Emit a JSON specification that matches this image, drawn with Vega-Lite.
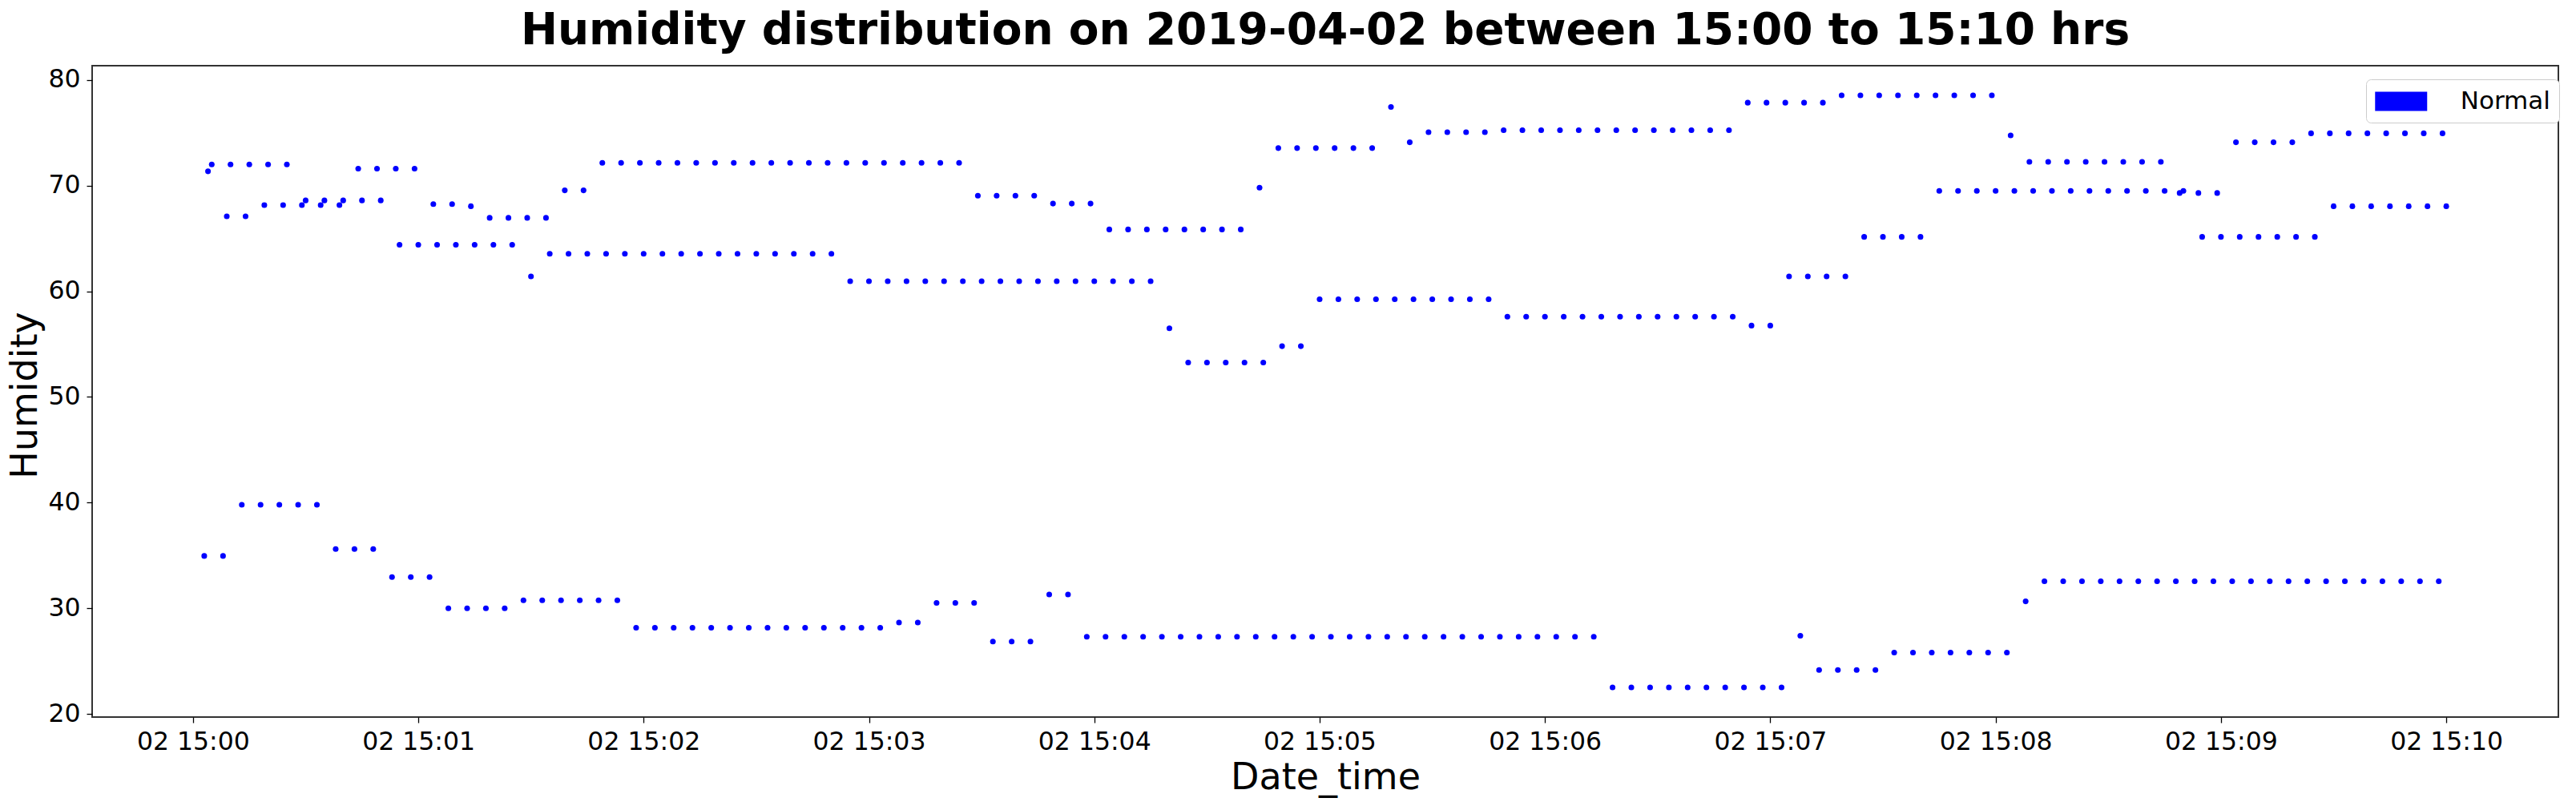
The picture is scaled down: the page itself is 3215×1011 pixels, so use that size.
{
"$schema": "https://vega.github.io/schema/vega-lite/v6.json",
"width": 3078, "height": 813,
"autosize": {"type": "none"},
"padding": {"left": 115, "top": 82, "right": 22, "bottom": 116},
"background": "white",
"config": {"view": {"stroke": "#333333", "strokeWidth": 2}, "font": "DejaVu Sans"},
"title": {"text": "Humidity distribution on 2019-04-02 between 15:00 to 15:10 hrs", "font": "DejaVu Sans", "fontSize": 55, "fontWeight": "bold", "color": "black", "anchor": "middle", "frame": "group", "offset": 15},
"data": {"values": [
{"t":"2019-04-02T15:00:05","h":72.0},{"t":"2019-04-02T15:00:10","h":72.0},{"t":"2019-04-02T15:00:15","h":72.0},{"t":"2019-04-02T15:00:20","h":72.0},{"t":"2019-04-02T15:00:25","h":72.0},
{"t":"2019-04-02T15:00:30","h":68.6},{"t":"2019-04-02T15:00:35","h":68.6},{"t":"2019-04-02T15:00:40","h":68.6},{"t":"2019-04-02T15:00:45","h":68.6},{"t":"2019-04-02T15:00:50","h":68.6},
{"t":"2019-04-02T15:00:55","h":64.4},{"t":"2019-04-02T15:01:00","h":64.4},{"t":"2019-04-02T15:01:05","h":64.4},{"t":"2019-04-02T15:01:10","h":64.4},{"t":"2019-04-02T15:01:15","h":64.4},{"t":"2019-04-02T15:01:20","h":64.4},{"t":"2019-04-02T15:01:25","h":64.4},
{"t":"2019-04-02T15:01:30","h":61.4},
{"t":"2019-04-02T15:01:35","h":63.55},{"t":"2019-04-02T15:01:40","h":63.55},{"t":"2019-04-02T15:01:45","h":63.55},{"t":"2019-04-02T15:01:50","h":63.55},{"t":"2019-04-02T15:01:55","h":63.55},{"t":"2019-04-02T15:02:00","h":63.55},{"t":"2019-04-02T15:02:05","h":63.55},{"t":"2019-04-02T15:02:10","h":63.55},{"t":"2019-04-02T15:02:15","h":63.55},{"t":"2019-04-02T15:02:20","h":63.55},{"t":"2019-04-02T15:02:25","h":63.55},{"t":"2019-04-02T15:02:30","h":63.55},{"t":"2019-04-02T15:02:35","h":63.55},{"t":"2019-04-02T15:02:40","h":63.55},{"t":"2019-04-02T15:02:45","h":63.55},{"t":"2019-04-02T15:02:50","h":63.55},
{"t":"2019-04-02T15:02:55","h":60.95},{"t":"2019-04-02T15:03:00","h":60.95},{"t":"2019-04-02T15:03:05","h":60.95},{"t":"2019-04-02T15:03:10","h":60.95},{"t":"2019-04-02T15:03:15","h":60.95},{"t":"2019-04-02T15:03:20","h":60.95},{"t":"2019-04-02T15:03:25","h":60.95},{"t":"2019-04-02T15:03:30","h":60.95},{"t":"2019-04-02T15:03:35","h":60.95},{"t":"2019-04-02T15:03:40","h":60.95},{"t":"2019-04-02T15:03:45","h":60.95},{"t":"2019-04-02T15:03:50","h":60.95},{"t":"2019-04-02T15:03:55","h":60.95},{"t":"2019-04-02T15:04:00","h":60.95},{"t":"2019-04-02T15:04:05","h":60.95},{"t":"2019-04-02T15:04:10","h":60.95},{"t":"2019-04-02T15:04:15","h":60.95},
{"t":"2019-04-02T15:04:20","h":56.5},
{"t":"2019-04-02T15:04:25","h":53.25},{"t":"2019-04-02T15:04:30","h":53.25},{"t":"2019-04-02T15:04:35","h":53.25},{"t":"2019-04-02T15:04:40","h":53.25},{"t":"2019-04-02T15:04:45","h":53.25},
{"t":"2019-04-02T15:04:50","h":54.8},{"t":"2019-04-02T15:04:55","h":54.8},
{"t":"2019-04-02T15:05:00","h":59.25},{"t":"2019-04-02T15:05:05","h":59.25},{"t":"2019-04-02T15:05:10","h":59.25},{"t":"2019-04-02T15:05:15","h":59.25},{"t":"2019-04-02T15:05:20","h":59.25},{"t":"2019-04-02T15:05:25","h":59.25},{"t":"2019-04-02T15:05:30","h":59.25},{"t":"2019-04-02T15:05:35","h":59.25},{"t":"2019-04-02T15:05:40","h":59.25},{"t":"2019-04-02T15:05:45","h":59.25},
{"t":"2019-04-02T15:05:50","h":57.6},{"t":"2019-04-02T15:05:55","h":57.6},{"t":"2019-04-02T15:06:00","h":57.6},{"t":"2019-04-02T15:06:05","h":57.6},{"t":"2019-04-02T15:06:10","h":57.6},{"t":"2019-04-02T15:06:15","h":57.6},{"t":"2019-04-02T15:06:20","h":57.6},{"t":"2019-04-02T15:06:25","h":57.6},{"t":"2019-04-02T15:06:30","h":57.6},{"t":"2019-04-02T15:06:35","h":57.6},{"t":"2019-04-02T15:06:40","h":57.6},{"t":"2019-04-02T15:06:45","h":57.6},{"t":"2019-04-02T15:06:50","h":57.6},
{"t":"2019-04-02T15:06:55","h":56.75},{"t":"2019-04-02T15:07:00","h":56.75},
{"t":"2019-04-02T15:07:05","h":61.4},{"t":"2019-04-02T15:07:10","h":61.4},{"t":"2019-04-02T15:07:15","h":61.4},{"t":"2019-04-02T15:07:20","h":61.4},
{"t":"2019-04-02T15:07:25","h":65.15},{"t":"2019-04-02T15:07:30","h":65.15},{"t":"2019-04-02T15:07:35","h":65.15},{"t":"2019-04-02T15:07:40","h":65.15},
{"t":"2019-04-02T15:07:45","h":69.5},{"t":"2019-04-02T15:07:50","h":69.5},{"t":"2019-04-02T15:07:55","h":69.5},{"t":"2019-04-02T15:08:00","h":69.5},{"t":"2019-04-02T15:08:05","h":69.5},{"t":"2019-04-02T15:08:10","h":69.5},{"t":"2019-04-02T15:08:15","h":69.5},{"t":"2019-04-02T15:08:20","h":69.5},{"t":"2019-04-02T15:08:25","h":69.5},{"t":"2019-04-02T15:08:30","h":69.5},{"t":"2019-04-02T15:08:35","h":69.5},{"t":"2019-04-02T15:08:40","h":69.5},{"t":"2019-04-02T15:08:45","h":69.5},{"t":"2019-04-02T15:08:50","h":69.5},
{"t":"2019-04-02T15:08:55","h":65.15},{"t":"2019-04-02T15:09:00","h":65.15},{"t":"2019-04-02T15:09:05","h":65.15},{"t":"2019-04-02T15:09:10","h":65.15},{"t":"2019-04-02T15:09:15","h":65.15},{"t":"2019-04-02T15:09:20","h":65.15},{"t":"2019-04-02T15:09:25","h":65.15},
{"t":"2019-04-02T15:09:30","h":68.05},{"t":"2019-04-02T15:09:35","h":68.05},{"t":"2019-04-02T15:09:40","h":68.05},{"t":"2019-04-02T15:09:45","h":68.05},{"t":"2019-04-02T15:09:50","h":68.05},{"t":"2019-04-02T15:09:55","h":68.05},{"t":"2019-04-02T15:10:00","h":68.05},
{"t":"2019-04-02T15:00:04","h":71.35},
{"t":"2019-04-02T15:00:09","h":67.1},{"t":"2019-04-02T15:00:14","h":67.1},
{"t":"2019-04-02T15:00:19","h":68.15},{"t":"2019-04-02T15:00:24","h":68.15},{"t":"2019-04-02T15:00:29","h":68.15},{"t":"2019-04-02T15:00:34","h":68.15},{"t":"2019-04-02T15:00:39","h":68.15},
{"t":"2019-04-02T15:00:44","h":71.6},{"t":"2019-04-02T15:00:49","h":71.6},{"t":"2019-04-02T15:00:54","h":71.6},{"t":"2019-04-02T15:00:59","h":71.6},
{"t":"2019-04-02T15:01:04","h":68.25},{"t":"2019-04-02T15:01:09","h":68.25},
{"t":"2019-04-02T15:01:14","h":68.05},
{"t":"2019-04-02T15:01:19","h":66.95},{"t":"2019-04-02T15:01:24","h":66.95},{"t":"2019-04-02T15:01:29","h":66.95},{"t":"2019-04-02T15:01:34","h":66.95},
{"t":"2019-04-02T15:01:39","h":69.55},{"t":"2019-04-02T15:01:44","h":69.55},
{"t":"2019-04-02T15:01:49","h":72.15},{"t":"2019-04-02T15:01:54","h":72.15},{"t":"2019-04-02T15:01:59","h":72.15},{"t":"2019-04-02T15:02:04","h":72.15},{"t":"2019-04-02T15:02:09","h":72.15},{"t":"2019-04-02T15:02:14","h":72.15},{"t":"2019-04-02T15:02:19","h":72.15},{"t":"2019-04-02T15:02:24","h":72.15},{"t":"2019-04-02T15:02:29","h":72.15},{"t":"2019-04-02T15:02:34","h":72.15},{"t":"2019-04-02T15:02:39","h":72.15},{"t":"2019-04-02T15:02:44","h":72.15},{"t":"2019-04-02T15:02:49","h":72.15},{"t":"2019-04-02T15:02:54","h":72.15},{"t":"2019-04-02T15:02:59","h":72.15},{"t":"2019-04-02T15:03:04","h":72.15},{"t":"2019-04-02T15:03:09","h":72.15},{"t":"2019-04-02T15:03:14","h":72.15},{"t":"2019-04-02T15:03:19","h":72.15},{"t":"2019-04-02T15:03:24","h":72.15},
{"t":"2019-04-02T15:03:29","h":69.05},{"t":"2019-04-02T15:03:34","h":69.05},{"t":"2019-04-02T15:03:39","h":69.05},{"t":"2019-04-02T15:03:44","h":69.05},
{"t":"2019-04-02T15:03:49","h":68.3},{"t":"2019-04-02T15:03:54","h":68.3},{"t":"2019-04-02T15:03:59","h":68.3},
{"t":"2019-04-02T15:04:04","h":65.85},{"t":"2019-04-02T15:04:09","h":65.85},{"t":"2019-04-02T15:04:14","h":65.85},{"t":"2019-04-02T15:04:19","h":65.85},{"t":"2019-04-02T15:04:24","h":65.85},{"t":"2019-04-02T15:04:29","h":65.85},{"t":"2019-04-02T15:04:34","h":65.85},{"t":"2019-04-02T15:04:39","h":65.85},
{"t":"2019-04-02T15:04:44","h":69.8},
{"t":"2019-04-02T15:04:49","h":73.55},{"t":"2019-04-02T15:04:54","h":73.55},{"t":"2019-04-02T15:04:59","h":73.55},{"t":"2019-04-02T15:05:04","h":73.55},{"t":"2019-04-02T15:05:09","h":73.55},{"t":"2019-04-02T15:05:14","h":73.55},
{"t":"2019-04-02T15:05:19","h":77.45},
{"t":"2019-04-02T15:05:24","h":74.1},
{"t":"2019-04-02T15:05:29","h":75.05},{"t":"2019-04-02T15:05:34","h":75.05},{"t":"2019-04-02T15:05:39","h":75.05},{"t":"2019-04-02T15:05:44","h":75.05},
{"t":"2019-04-02T15:05:49","h":75.25},{"t":"2019-04-02T15:05:54","h":75.25},{"t":"2019-04-02T15:05:59","h":75.25},{"t":"2019-04-02T15:06:04","h":75.25},{"t":"2019-04-02T15:06:09","h":75.25},{"t":"2019-04-02T15:06:14","h":75.25},{"t":"2019-04-02T15:06:19","h":75.25},{"t":"2019-04-02T15:06:24","h":75.25},{"t":"2019-04-02T15:06:29","h":75.25},{"t":"2019-04-02T15:06:34","h":75.25},{"t":"2019-04-02T15:06:39","h":75.25},{"t":"2019-04-02T15:06:44","h":75.25},{"t":"2019-04-02T15:06:49","h":75.25},
{"t":"2019-04-02T15:06:54","h":77.85},{"t":"2019-04-02T15:06:59","h":77.85},{"t":"2019-04-02T15:07:04","h":77.85},{"t":"2019-04-02T15:07:09","h":77.85},{"t":"2019-04-02T15:07:14","h":77.85},
{"t":"2019-04-02T15:07:19","h":78.55},{"t":"2019-04-02T15:07:24","h":78.55},{"t":"2019-04-02T15:07:29","h":78.55},{"t":"2019-04-02T15:07:34","h":78.55},{"t":"2019-04-02T15:07:39","h":78.55},{"t":"2019-04-02T15:07:44","h":78.55},{"t":"2019-04-02T15:07:49","h":78.55},{"t":"2019-04-02T15:07:54","h":78.55},{"t":"2019-04-02T15:07:59","h":78.55},
{"t":"2019-04-02T15:08:04","h":74.75},
{"t":"2019-04-02T15:08:09","h":72.25},{"t":"2019-04-02T15:08:14","h":72.25},{"t":"2019-04-02T15:08:19","h":72.25},{"t":"2019-04-02T15:08:24","h":72.25},{"t":"2019-04-02T15:08:29","h":72.25},{"t":"2019-04-02T15:08:34","h":72.25},{"t":"2019-04-02T15:08:39","h":72.25},{"t":"2019-04-02T15:08:44","h":72.25},
{"t":"2019-04-02T15:08:49","h":69.3},{"t":"2019-04-02T15:08:54","h":69.3},{"t":"2019-04-02T15:08:59","h":69.3},
{"t":"2019-04-02T15:09:04","h":74.1},{"t":"2019-04-02T15:09:09","h":74.1},{"t":"2019-04-02T15:09:14","h":74.1},{"t":"2019-04-02T15:09:19","h":74.1},
{"t":"2019-04-02T15:09:24","h":74.95},{"t":"2019-04-02T15:09:29","h":74.95},{"t":"2019-04-02T15:09:34","h":74.95},{"t":"2019-04-02T15:09:39","h":74.95},{"t":"2019-04-02T15:09:44","h":74.95},{"t":"2019-04-02T15:09:49","h":74.95},{"t":"2019-04-02T15:09:54","h":74.95},{"t":"2019-04-02T15:09:59","h":74.95},
{"t":"2019-04-02T15:00:03","h":34.95},{"t":"2019-04-02T15:00:08","h":34.95},
{"t":"2019-04-02T15:00:13","h":39.8},{"t":"2019-04-02T15:00:18","h":39.8},{"t":"2019-04-02T15:00:23","h":39.8},{"t":"2019-04-02T15:00:28","h":39.8},{"t":"2019-04-02T15:00:33","h":39.8},
{"t":"2019-04-02T15:00:38","h":35.6},{"t":"2019-04-02T15:00:43","h":35.6},{"t":"2019-04-02T15:00:48","h":35.6},
{"t":"2019-04-02T15:00:53","h":32.95},{"t":"2019-04-02T15:00:58","h":32.95},{"t":"2019-04-02T15:01:03","h":32.95},
{"t":"2019-04-02T15:01:08","h":30.0},{"t":"2019-04-02T15:01:13","h":30.0},{"t":"2019-04-02T15:01:18","h":30.0},{"t":"2019-04-02T15:01:23","h":30.0},
{"t":"2019-04-02T15:01:28","h":30.75},{"t":"2019-04-02T15:01:33","h":30.75},{"t":"2019-04-02T15:01:38","h":30.75},{"t":"2019-04-02T15:01:43","h":30.75},{"t":"2019-04-02T15:01:48","h":30.75},{"t":"2019-04-02T15:01:53","h":30.75},
{"t":"2019-04-02T15:01:58","h":28.15},{"t":"2019-04-02T15:02:03","h":28.15},{"t":"2019-04-02T15:02:08","h":28.15},{"t":"2019-04-02T15:02:13","h":28.15},{"t":"2019-04-02T15:02:18","h":28.15},{"t":"2019-04-02T15:02:23","h":28.15},{"t":"2019-04-02T15:02:28","h":28.15},{"t":"2019-04-02T15:02:33","h":28.15},{"t":"2019-04-02T15:02:38","h":28.15},{"t":"2019-04-02T15:02:43","h":28.15},{"t":"2019-04-02T15:02:48","h":28.15},{"t":"2019-04-02T15:02:53","h":28.15},{"t":"2019-04-02T15:02:58","h":28.15},{"t":"2019-04-02T15:03:03","h":28.15},
{"t":"2019-04-02T15:03:08","h":28.65},{"t":"2019-04-02T15:03:13","h":28.65},
{"t":"2019-04-02T15:03:18","h":30.5},{"t":"2019-04-02T15:03:23","h":30.5},{"t":"2019-04-02T15:03:28","h":30.5},
{"t":"2019-04-02T15:03:33","h":26.85},{"t":"2019-04-02T15:03:38","h":26.85},{"t":"2019-04-02T15:03:43","h":26.85},
{"t":"2019-04-02T15:03:48","h":31.3},{"t":"2019-04-02T15:03:53","h":31.3},
{"t":"2019-04-02T15:03:58","h":27.3},{"t":"2019-04-02T15:04:03","h":27.3},{"t":"2019-04-02T15:04:08","h":27.3},{"t":"2019-04-02T15:04:13","h":27.3},{"t":"2019-04-02T15:04:18","h":27.3},{"t":"2019-04-02T15:04:23","h":27.3},{"t":"2019-04-02T15:04:28","h":27.3},{"t":"2019-04-02T15:04:33","h":27.3},{"t":"2019-04-02T15:04:38","h":27.3},{"t":"2019-04-02T15:04:43","h":27.3},{"t":"2019-04-02T15:04:48","h":27.3},{"t":"2019-04-02T15:04:53","h":27.3},{"t":"2019-04-02T15:04:58","h":27.3},{"t":"2019-04-02T15:05:03","h":27.3},{"t":"2019-04-02T15:05:08","h":27.3},{"t":"2019-04-02T15:05:13","h":27.3},{"t":"2019-04-02T15:05:18","h":27.3},{"t":"2019-04-02T15:05:23","h":27.3},{"t":"2019-04-02T15:05:28","h":27.3},{"t":"2019-04-02T15:05:33","h":27.3},{"t":"2019-04-02T15:05:38","h":27.3},{"t":"2019-04-02T15:05:43","h":27.3},{"t":"2019-04-02T15:05:48","h":27.3},{"t":"2019-04-02T15:05:53","h":27.3},{"t":"2019-04-02T15:05:58","h":27.3},{"t":"2019-04-02T15:06:03","h":27.3},{"t":"2019-04-02T15:06:08","h":27.3},{"t":"2019-04-02T15:06:13","h":27.3},
{"t":"2019-04-02T15:06:18","h":22.5},{"t":"2019-04-02T15:06:23","h":22.5},{"t":"2019-04-02T15:06:28","h":22.5},{"t":"2019-04-02T15:06:33","h":22.5},{"t":"2019-04-02T15:06:38","h":22.5},{"t":"2019-04-02T15:06:43","h":22.5},{"t":"2019-04-02T15:06:48","h":22.5},{"t":"2019-04-02T15:06:53","h":22.5},{"t":"2019-04-02T15:06:58","h":22.5},{"t":"2019-04-02T15:07:03","h":22.5},
{"t":"2019-04-02T15:07:08","h":27.4},
{"t":"2019-04-02T15:07:13","h":24.15},{"t":"2019-04-02T15:07:18","h":24.15},{"t":"2019-04-02T15:07:23","h":24.15},{"t":"2019-04-02T15:07:28","h":24.15},
{"t":"2019-04-02T15:07:33","h":25.8},{"t":"2019-04-02T15:07:38","h":25.8},{"t":"2019-04-02T15:07:43","h":25.8},{"t":"2019-04-02T15:07:48","h":25.8},{"t":"2019-04-02T15:07:53","h":25.8},{"t":"2019-04-02T15:07:58","h":25.8},{"t":"2019-04-02T15:08:03","h":25.8},
{"t":"2019-04-02T15:08:08","h":30.65},
{"t":"2019-04-02T15:08:13","h":32.55},{"t":"2019-04-02T15:08:18","h":32.55},{"t":"2019-04-02T15:08:23","h":32.55},{"t":"2019-04-02T15:08:28","h":32.55},{"t":"2019-04-02T15:08:33","h":32.55},{"t":"2019-04-02T15:08:38","h":32.55},{"t":"2019-04-02T15:08:43","h":32.55},{"t":"2019-04-02T15:08:48","h":32.55},{"t":"2019-04-02T15:08:53","h":32.55},{"t":"2019-04-02T15:08:58","h":32.55},{"t":"2019-04-02T15:09:03","h":32.55},{"t":"2019-04-02T15:09:08","h":32.55},{"t":"2019-04-02T15:09:13","h":32.55},{"t":"2019-04-02T15:09:18","h":32.55},{"t":"2019-04-02T15:09:23","h":32.55},{"t":"2019-04-02T15:09:28","h":32.55},{"t":"2019-04-02T15:09:33","h":32.55},{"t":"2019-04-02T15:09:38","h":32.55},{"t":"2019-04-02T15:09:43","h":32.55},{"t":"2019-04-02T15:09:48","h":32.55},{"t":"2019-04-02T15:09:53","h":32.55},{"t":"2019-04-02T15:09:58","h":32.55}
]},
"mark": {"type": "point", "filled": true, "shape": "circle", "size": 50, "opacity": 1, "strokeWidth": 0},
"encoding": {
  "x": {"field": "t", "type": "temporal",
    "scale": {"domain": [{"year":2019,"month":4,"date":2,"hours":14,"minutes":59,"seconds":33,"milliseconds":150},{"year":2019,"month":4,"date":2,"hours":15,"minutes":10,"seconds":29,"milliseconds":850}]},
    "axis": {"title": "Date_time", "titleFontSize": 46, "titleFontWeight": "normal", "titleColor": "black", "titleX": 1539, "titleY": 89, "titleAlign": "center", "titleBaseline": "alphabetic",
      "format": "%d %H:%M",
      "values": [{"year":2019,"month":4,"date":2,"hours":15,"minutes":0},{"year":2019,"month":4,"date":2,"hours":15,"minutes":1},{"year":2019,"month":4,"date":2,"hours":15,"minutes":2},{"year":2019,"month":4,"date":2,"hours":15,"minutes":3},{"year":2019,"month":4,"date":2,"hours":15,"minutes":4},{"year":2019,"month":4,"date":2,"hours":15,"minutes":5},{"year":2019,"month":4,"date":2,"hours":15,"minutes":6},{"year":2019,"month":4,"date":2,"hours":15,"minutes":7},{"year":2019,"month":4,"date":2,"hours":15,"minutes":8},{"year":2019,"month":4,"date":2,"hours":15,"minutes":9},{"year":2019,"month":4,"date":2,"hours":15,"minutes":10}],
      "labelFontSize": 31.5, "labelColor": "black", "labelPadding": 8, "labelFlush": false, "labelOverlap": false,
      "tickSize": 7, "tickColor": "black", "tickWidth": 1.3, "domain": false, "grid": false}},
  "y": {"field": "h", "type": "quantitative",
    "scale": {"domain": [19.7, 81.35], "nice": false, "zero": false},
    "axis": {"title": "Humidity", "titleFontSize": 46, "titleFontWeight": "normal", "titleColor": "black", "titleAngle": 270, "titleX": -70, "titleY": 411, "titleAlign": "center", "titleBaseline": "alphabetic",
      "values": [20, 30, 40, 50, 60, 70, 80], "labelFontSize": 31.5, "labelColor": "black", "labelPadding": 8,
      "tickSize": 7, "tickColor": "black", "tickWidth": 1.3, "domain": false, "grid": false}},
  "color": {"datum": "Normal", "scale": {"range": ["#0000ff"]},
    "legend": {"orient": "none", "legendX": 2838, "legendY": 17, "title": null,
      "symbolType": "M-2,-0.74H2V0.74H-2Z", "symbolSize": 1056, "symbolOffset": 16.25, "symbolStrokeWidth": 0, "symbolOpacity": 1,
      "labelFontSize": 31, "labelColor": "black", "labelOffset": 57.5, "padding": 11,
      "strokeColor": "#cccccc", "fillColor": "white", "cornerRadius": 6}}
}
}
